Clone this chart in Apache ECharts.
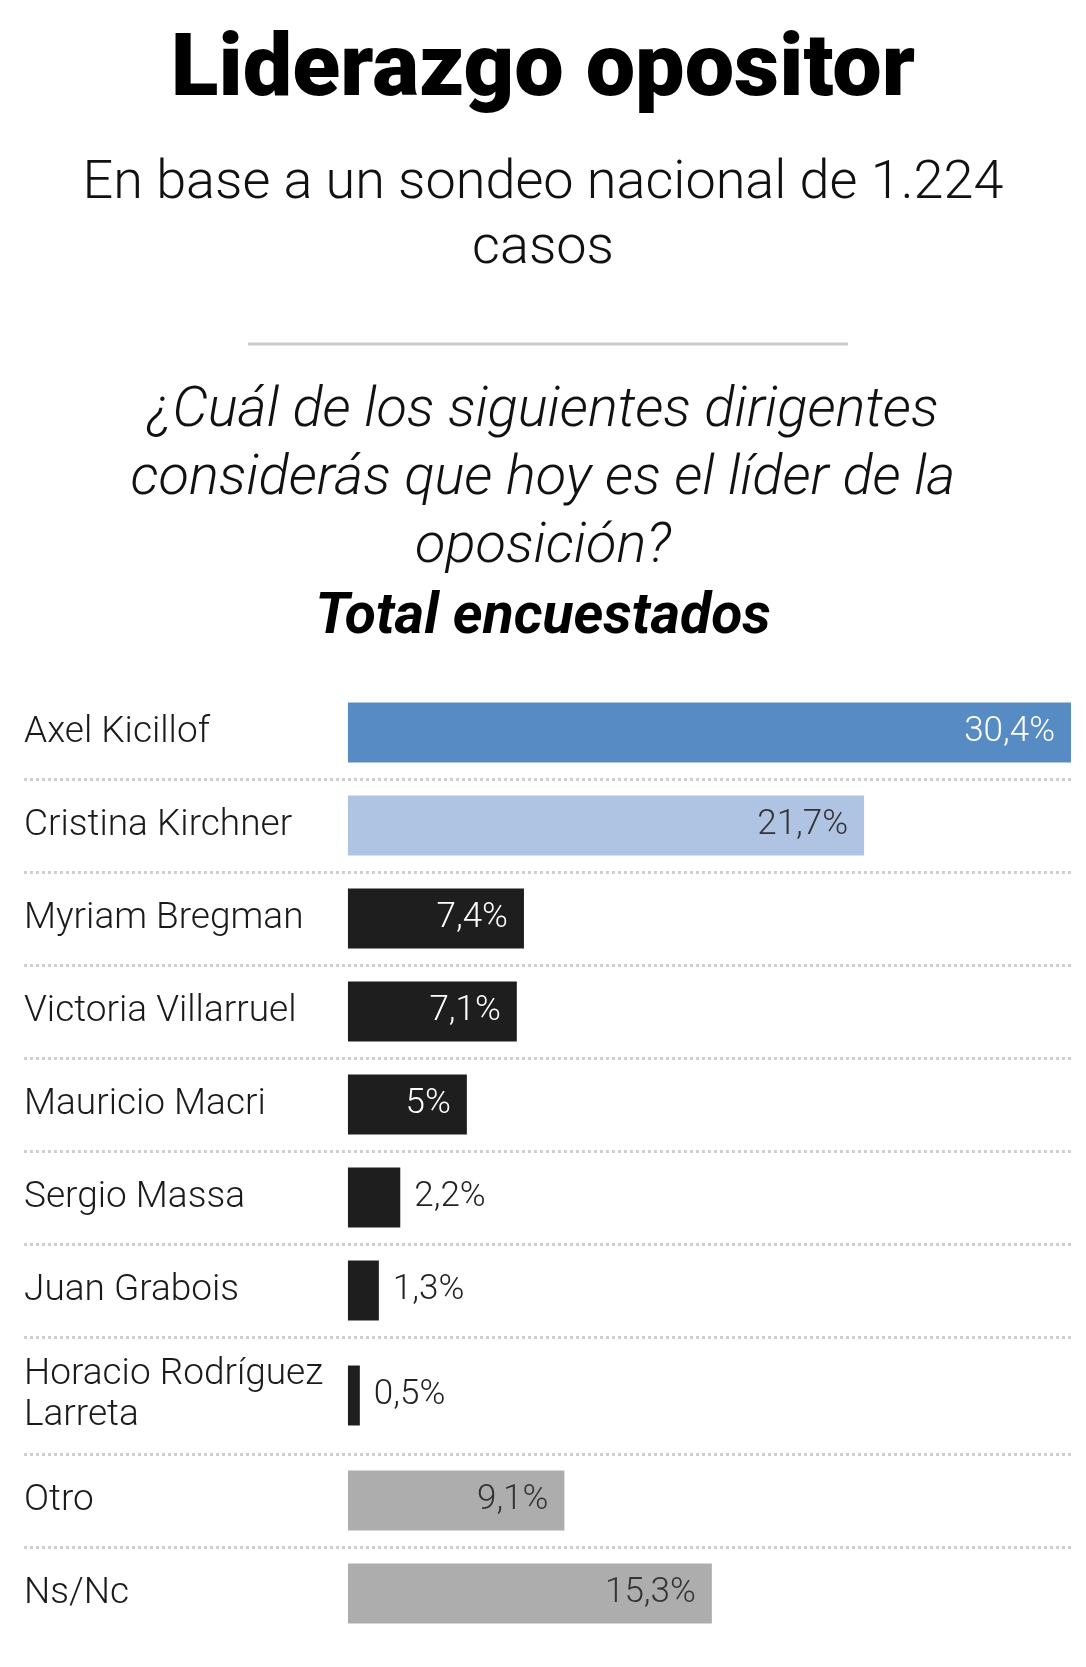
<!DOCTYPE html>
<html>
<head>
<meta charset="utf-8">
<script src="https://cdn.jsdelivr.net/npm/echarts@6/dist/echarts.min.js"></script>
<style>
  html, body { margin: 0; padding: 0; background: #fff; }
  #main { width: 1086px; height: 1667px; }
</style>
</head>
<body>
<div id="main"></div>
<script>
// datos de la encuesta
var names = ['Axel Kicillof', 'Cristina Kirchner', 'Myriam Bregman', 'Victoria Villarruel', 'Mauricio Macri',
  'Sergio Massa', 'Juan Grabois', 'Horacio Rodríguez\nLarreta', 'Otro', 'Ns/Nc'];
var values = [30.4, 21.7, 7.4, 7.1, 5, 2.2, 1.3, 0.5, 9.1, 15.3];
var groups = ['primero', 'segundo', 'dirigente', 'dirigente', 'dirigente',
  'dirigente', 'dirigente', 'dirigente', 'resto', 'resto'];

var groupColor = {primero: '#568bc3', segundo: '#afc3e2', dirigente: '#1e1e1e', resto: '#adadad'};
var groupText = {primero: '#ffffff', segundo: '#333333', dirigente: '#ffffff', resto: '#333333'};

var FONT = 'Roboto, "Noto Sans", sans-serif';

// filas: la de Larreta es mas alta por el nombre en dos lineas
var gridRows = [[0, 7], [7, 8], [8, 10]];
var gridTops = [686, 1337, 1454];
var rowHeights = [93, 117, 93];

var chart = echarts.init(document.getElementById('main'));

function fmt(v) {
    return String(v).replace('.', ',') + '%';
}

var grids = [], xAxes = [], yAxes = [], series = [];

gridRows.forEach(function (r, g) {
    var n = r[1] - r[0];
    grids.push({left: 24, right: 15, top: gridTops[g], height: n * rowHeights[g], containLabel: false});
    xAxes.push({
        gridIndex: g, type: 'value', min: -13.62, max: 30.4, show: false,
        splitLine: {show: false}
    });
    yAxes.push({
        gridIndex: g, type: 'category', inverse: true,
        data: names.slice(r[0], r[1]),
        axisLine: {show: false, onZero: false},
        axisTick: {show: false},
        axisLabel: {
            inside: true, margin: 0, align: 'left',
            color: '#1a1a1a', fontSize: 37, fontWeight: 300, lineHeight: 41, fontFamily: FONT
        },
        splitLine: {
            show: true, showMinLine: false, showMaxLine: g < 2,
            lineStyle: {color: '#cfcfcf', width: 3, type: [3, 3]}
        }
    });
    var data = [];
    for (var i = r[0]; i < r[1]; i++) {
        var small = values[i] < 4;
        data.push({
            value: values[i],
            itemStyle: {color: groupColor[groups[i]]},
            label: {
                position: small ? 'right' : 'insideRight',
                distance: small ? 14 : 16,
                color: small ? '#222' : groupText[groups[i]]
            }
        });
    }
    series.push({
        type: 'bar', xAxisIndex: g, yAxisIndex: g,
        barWidth: 60,
        data: data,
        label: {
            show: true, fontSize: 35, fontWeight: 300, fontFamily: FONT,
            formatter: function (p) { return fmt(p.value); }
        }
    });
});

var option = {
    animation: false,
    backgroundColor: '#fff',
    title: [
        {
            text: 'Liderazgo opositor', left: 'center', top: 24,
            textStyle: {fontSize: 88, fontWeight: 900, color: '#000', fontFamily: FONT, lineHeight: 88}
        },
        {
            text: 'En base a un sondeo nacional de 1.224\ncasos', left: 'center', top: 147,
            textStyle: {fontSize: 54, fontWeight: 300, color: '#111', fontFamily: FONT, lineHeight: 65}
        },
        {
            text: '¿Cuál de los siguientes dirigentes\nconsiderás que hoy es el líder de la\noposición?',
            left: 'center', top: 373,
            textStyle: {fontSize: 56, fontWeight: 300, fontStyle: 'italic', color: '#111', fontFamily: FONT, lineHeight: 68}
        },
        {
            text: 'Total encuestados', left: 'center', top: 584,
            textStyle: {fontSize: 57, fontWeight: 'bold', fontStyle: 'italic', color: '#000', fontFamily: FONT, lineHeight: 60}
        }
    ],
    graphic: [
        {type: 'line', shape: {x1: 248, y1: 344, x2: 848, y2: 344}, style: {stroke: '#cccccc', lineWidth: 3}}
    ],
    grid: grids,
    xAxis: xAxes,
    yAxis: yAxes,
    series: series
};

chart.setOption(option);
</script>
</body>
</html>
